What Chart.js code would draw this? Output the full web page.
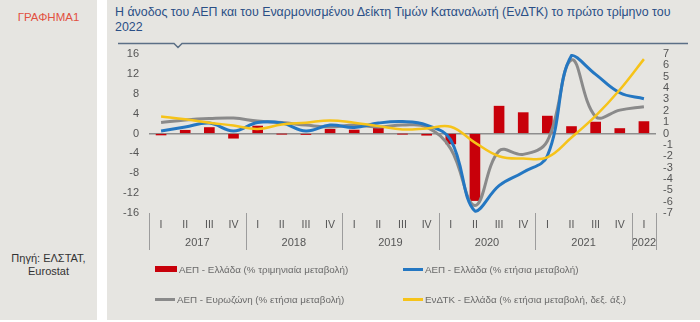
<!DOCTYPE html>
<html lang="el">
<head>
<meta charset="utf-8">
<script src="https://cdn.jsdelivr.net/npm/chart.js@4.4.0/dist/chart.umd.min.js"></script>
<style>
  body { margin: 0; width: 700px; height: 322px; background: #fff; position: relative; overflow: hidden;
         font-family: "Liberation Sans", Arial, sans-serif; }
  .panel { position: absolute; top: 0; height: 320px; background: #e6e5e1; }
  #side { left: 0; width: 97px; }
  #main { left: 107px; width: 593px; }
  #tag { position: absolute; left: 0; width: 97px; top: 11px; text-align: center; color: #e2503f; font-size: 11.5px; }
  #source { position: absolute; left: 0; width: 97px; top: 252px; text-align: center; color: #333; font-size: 11px; line-height: 13px; }
  #title { position: absolute; left: 115px; top: 5px; color: #2a4f86; font-size: 12.4px; line-height: 15px; }
  #rule { position: absolute; left: 0; top: 0; }
  canvas { position: absolute; left: 0; top: 0; }
  .leg { position: absolute; font-size: 9.8px; color: #6a6a6a; white-space: nowrap; line-height: 12px; }
  .sw { display: inline-block; vertical-align: middle; margin-right: 2px; position: relative; top: -1px; }
</style>
</head>
<body>
<div class="panel" id="side"></div>
<div class="panel" id="main"></div>
<div id="tag">ΓΡΑΦΗΜΑ1</div>
<div id="source">Πηγή: ΕΛΣΤΑΤ,<br>Eurostat</div>
<div id="title">Η άνοδος του ΑΕΠ και του Εναρμονισμένου Δείκτη Τιμών Καταναλωτή (ΕνΔΤΚ) το πρώτο τρίμηνο του<br>2022</div>
<svg id="rule" width="700" height="60">
  <polyline points="118,43.5 174,43.5 178,47.5 182,43.5 688,43.5" fill="none" stroke="#5b6f86" stroke-width="1.5"/>
</svg>
<canvas id="chart" width="700" height="322"></canvas>
<div id="legend"></div>

<script>
// quarters and years along the bottom
var quarters = ['I','II','III','IV','I','II','III','IV','I','II','III','IV',
                'I','II','III','IV','I','II','III','IV','I'];
var years = ['2017','2018','2019','2020','2021','2022'];
var yearLengths = [4, 4, 4, 4, 4, 1];

// GDP Greece, quarterly change (%)
var gdpQoq = [-0.3, 0.65, 1.2, -0.95,  1.5, -0.1, -0.2, 0.85,  0.7, 1.2, -0.1, -0.35,
              -2.1, -13.5, 5.5, 4.2,  3.5, 1.4, 2.3, 1.0,  2.4];
// GDP Greece, annual change (%)
var gdpGreece = [0.5, 1.3, 2.1, 0.5,  2.2, 2.1, 0.5, 1.7,  1.2, 2.1, 2.4, 1.7,
                 -1.3, -15.6, -10.5, -7.8,  -4.5, 15.7, 11.9, 8.2,  7.0];
// GDP euro area, annual change (%)
var gdpEuro = [2.2, 2.7, 3.0, 3.1,  2.5, 2.2, 1.7, 1.3,  1.7, 1.3, 1.7, 1.3,
               -3.1, -14.5, -3.5, -4.2,  -1.5, 14.8, 3.4, 4.7,  5.4];
// HICP Greece, annual change (%), right axis
var hicp = [1.5, 1.25, 0.95, 0.7,  0.4, 0.8, 0.95, 1.15,  0.95, 0.65, 0.35, 0.45,
            0.6, -0.8, -2.0, -2.2,  -2.1, -0.35, 1.55, 3.85,  6.55];

var fontFamily = '"Liberation Sans", Arial, sans-serif';

// year captions and the separators between years under the quarter labels
var yearBands = {
  id: 'yearBands',
  afterDraw: function(chart) {
    var x = chart.scales.x, area = chart.chartArea, ctx = chart.ctx;
    var step = x.getPixelForValue(1) - x.getPixelForValue(0);
    ctx.save();
    ctx.strokeStyle = '#9c9c9c';
    ctx.lineWidth = 1;
    ctx.fillStyle = '#555';
    ctx.font = '11px ' + fontFamily;
    ctx.textAlign = 'center';
    ctx.textBaseline = 'middle';
    var start = 0;
    var edges = [x.getPixelForValue(0) - step / 2];
    years.forEach(function(yr, k) {
      var n = yearLengths[k];
      var left = x.getPixelForValue(start) - step / 2;
      var right = x.getPixelForValue(start + n - 1) + step / 2;
      edges.push(right);
      ctx.fillText(yr, (left + right) / 2, area.bottom + 30);
      start += n;
    });
    edges.forEach(function(e) {
      var px = Math.round(e) + 0.5;
      ctx.beginPath();
      ctx.moveTo(px, area.bottom);
      ctx.lineTo(px, area.bottom + 37);
      ctx.stroke();
    });
    ctx.restore();
  }
};

var chart = new Chart(document.getElementById('chart'), {
  data: {
    labels: quarters,
    datasets: [
      { type: 'bar', label: 'ΑΕΠ - Ελλάδα (% τριμηνιαία μεταβολή)', data: gdpQoq,
        backgroundColor: '#c8000a', barThickness: 10, yAxisID: 'y', order: 4 },
      { type: 'line', label: 'ΑΕΠ - Ελλάδα (% ετήσια μεταβολή)', data: gdpGreece,
        borderColor: '#2477c2', borderWidth: 3, tension: 0.4, pointRadius: 0, yAxisID: 'y', order: 2, clip: false },
      { type: 'line', label: 'ΑΕΠ - Ευρωζώνη (% ετήσια μεταβολή)', data: gdpEuro,
        borderColor: '#8a8a8a', borderWidth: 3, tension: 0.4, pointRadius: 0, yAxisID: 'y', order: 3, clip: false },
      { type: 'line', label: 'ΕνΔΤΚ - Ελλάδα (% ετήσια μεταβολή, δεξ. άξ.)', data: hicp,
        borderColor: '#f6c319', borderWidth: 2.5, tension: 0.4, pointRadius: 0, yAxisID: 'y2', order: 1, clip: false }
    ]
  },
  options: {
    responsive: false,
    animation: false,
    layout: { padding: { left: 107, right: 0, top: 54, bottom: 69 } },
    plugins: { legend: { display: false }, tooltip: { enabled: false } },
    scales: {
      x: {
        type: 'category',
        offset: true,
        grid: { display: false, drawTicks: false },
        border: { display: false },
        ticks: { color: '#555', font: { family: fontFamily, size: 10.5 }, padding: 6, maxRotation: 0, autoSkip: false },
        afterFit: function(s) { s.height = 40; }
      },
      y: {
        position: 'left',
        min: -16, max: 16,
        ticks: { stepSize: 4, color: '#555', font: { family: fontFamily, size: 11 }, padding: 10, autoSkip: false },
        grid: {
          drawTicks: false,
          color: function(c) { return c.tick && c.tick.value === 0 ? '#8e8e8e' : 'rgba(0,0,0,0)'; },
          lineWidth: 1.5
        },
        border: { display: false },
        afterFit: function(s) { s.width = 42; }
      },
      y2: {
        position: 'right',
        min: -7, max: 7,
        ticks: { stepSize: 1, color: '#555', font: { family: fontFamily, size: 11 }, padding: 7, autoSkip: false },
        grid: { display: false, drawTicks: false },
        border: { display: false },
        afterFit: function(s) { s.width = 44; }
      }
    }
  },
  plugins: [yearBands]
});

// two-column legend built from the datasets
var legendSpots = [[155, 270], [403, 270], [155, 300], [403, 300]];
var legendBox = document.getElementById('legend');
chart.data.datasets.forEach(function(ds, k) {
  var item = document.createElement('div');
  item.className = 'leg';
  item.style.left = legendSpots[k][0] + 'px';
  item.style.top = (legendSpots[k][1] - 6) + 'px';
  var sw = document.createElement('span');
  sw.className = 'sw';
  sw.style.width = (ds.type === 'bar' ? 22 : 20) + 'px';
  sw.style.height = (ds.type === 'bar' ? 6 : 3) + 'px';
  sw.style.background = ds.type === 'bar' ? ds.backgroundColor : ds.borderColor;
  item.appendChild(sw);
  item.appendChild(document.createTextNode(ds.label));
  legendBox.appendChild(item);
});
</script>
</body>
</html>
